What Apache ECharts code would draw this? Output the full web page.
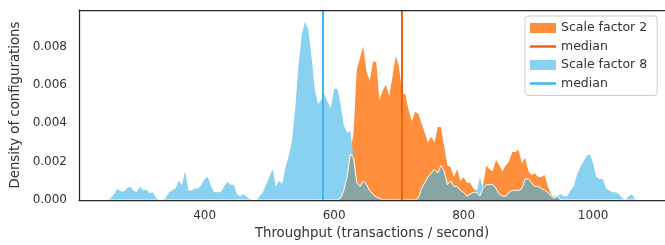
<!DOCTYPE html>
<html>
<head>
<meta charset="utf-8">
<script src="https://cdn.jsdelivr.net/npm/echarts@6/dist/echarts.min.js"></script>
<style>
  html, body { margin: 0; padding: 0; background: #fff; }
  #chart { width: 665px; height: 245px; }
</style>
</head>
<body>
<div id="chart"></div>
<script>
// bin centres (transactions / second)
var throughput = [
  245, 250, 255, 260, 265, 270, 275, 280, 285, 290,
  295, 300, 305, 310, 315, 320, 325, 330, 335, 340,
  345, 350, 355, 360, 365, 370, 375, 380, 385, 390,
  395, 400, 405, 410, 415, 420, 425, 430, 435, 440,
  445, 450, 455, 460, 465, 470, 475, 480, 485, 490,
  495, 500, 505, 510, 515, 520, 525, 530, 535, 540,
  545, 550, 555, 560, 565, 570, 575, 580, 585, 590,
  595, 600, 605, 610, 615, 620, 625, 630, 635, 640,
  645, 650, 655, 660, 665, 670, 675, 680, 685, 690,
  695, 700, 705, 710, 715, 720, 725, 730, 735, 740,
  745, 750, 755, 760, 765, 770, 775, 780, 785, 790,
  795, 800, 805, 810, 815, 820, 825, 830, 835, 840,
  845, 850, 855, 860, 865, 870, 875, 880, 885, 890,
  895, 900, 905, 910, 915, 920, 925, 930, 935, 940,
  945, 950, 955, 960, 965, 970, 975, 980, 985, 990,
  995, 1000, 1005, 1010, 1015, 1020, 1025, 1030, 1035, 1040,
  1045, 1050, 1055, 1060, 1065, 1070
];

// scale factor 2
var densitySf2 = [
  0, 0, 0, 0, 0, 0, 0, 0, 0, 0,
  0, 0, 0, 0, 0, 0, 0, 0, 0, 0,
  0, 0, 0, 0, 0, 0, 0, 0, 0, 0,
  0, 0, 0, 0, 0, 0, 0, 0, 0, 0,
  0, 0, 0, 0, 0, 0, 0, 0, 0, 0,
  0, 0, 0, 0, 0, 0, 0, 0, 0, 0,
  0, 0, 0, 0, 0, 0, 0, 0, 0, 0,
  0, 0, 0, 0.0001, 0.0005, 0.0012, 0.0024, 0.0035, 0.0068, 0.0074,
  0.008, 0.0067, 0.0062, 0.0072, 0.0072, 0.0052, 0.0057, 0.006, 0.0054, 0.0064,
  0.0075, 0.007, 0.0056, 0.0055, 0.0047, 0.0041, 0.0046, 0.0045, 0.004, 0.0035,
  0.003, 0.0033, 0.003, 0.0038, 0.0038, 0.0028, 0.0018, 0.0017, 0.0012, 0.0016,
  0.001, 0.0012, 0.0009, 0.0009, 0.0006, 0.0005, 0.0002, 0.0008, 0.0018, 0.0016,
  0.0015, 0.0021, 0.0018, 0.0015, 0.0018, 0.002, 0.0025, 0.0025, 0.0026, 0.0019,
  0.0022, 0.0015, 0.0013, 0.0014, 0.0012, 0.0012, 0.0013, 0.0007, 0.0003, 0.0001,
  0.0002, 0, 0, 0, 0, 0, 0, 0, 0, 0,
  0, 0, 0, 0, 0, 0, 0, 0, 0, 0,
  0, 0, 0, 0, 0, 0
];

// scale factor 8
var densitySf8 = [
  0, 0, 0.0001, 0.0003, 0.00058, 0.00045, 0.00044, 0.0006, 0.0007, 0.0005,
  0.0004, 0.0007, 0.0005, 0.00055, 0.00035, 0.0004, 0.0001, 0, 0, 0.0001,
  0.0004, 0.0005, 0.0006, 0.001, 0.0008, 0.0015, 0.0005, 0.0005, 0.0006, 0.0006,
  0.0008, 0.0011, 0.0012, 0.0007, 0.0004, 0.0004, 0.0004, 0.0007, 0.00095, 0.0008,
  0.0008, 0.0003, 0.0002, 0.0003, 0.00015, 0.00005, 0, 0, 0.0002, 0.0004,
  0.0008, 0.0012, 0.0016, 0.0007, 0.001, 0.00085, 0.0017, 0.0023, 0.0031, 0.0048,
  0.007, 0.0086, 0.0093, 0.0089, 0.0075, 0.0058, 0.005, 0.0052, 0.0055, 0.0051,
  0.0048, 0.0058, 0.0058, 0.005, 0.0039, 0.0035, 0.0036, 0.0022, 0.0009, 0.0007,
  0.001, 0.0008, 0.0005, 0.0003, 0.00015, 0.0001, 0, 0, 0, 0,
  0, 0, 0, 0, 0, 0, 0, 0.0001, 0.0006, 0.0009,
  0.0012, 0.0014, 0.0016, 0.0014, 0.0018, 0.0015, 0.0008, 0.001, 0.0007, 0.0007,
  0.0005, 0.0004, 0.0002, 0.0003, 0.0004, 0.0004, 0.0012, 0.0006, 0.0008, 0.0008,
  0.0008, 0.0006, 0.0003, 0.0002, 0.0002, 0.0004, 0.0005, 0.0005, 0.0005, 0.0006,
  0.0011, 0.0011, 0.0009, 0.0007, 0.0007, 0.0006, 0.0005, 0.0004, 0.0002, 0.0002,
  0.0002, 0.0003, 0.0002, 0.0002, 0.0005, 0.0007, 0.0013, 0.0017, 0.002, 0.0023,
  0.0024, 0.0019, 0.0012, 0.0011, 0.0011, 0.0006, 0.0005, 0.0004, 0.0004, 0.0003,
  0.0001, 0, 0.0002, 0.0003, 0, 0
];

var medianSf2 = 705;
var medianSf8 = 582;

var xTicks = [400, 600, 800, 1000];
var yTicks = [0, 0.002, 0.004, 0.006, 0.008];

var ORANGE = '#ff8f3d';
var ORANGE_DARK = '#ec6410';
var BLUE = '#88d1f1';
var BLUE_DARK = '#3db7ee';
var GREY = '#88a6a1';
var FONT = 'DejaVu Sans';

function pairs(ys) {
    return throughput.map(function (x, i) { return [x, ys[i]]; });
}
// part of the two areas that lies under both curves
var overlap = densitySf8.map(function (v, i) { return Math.min(v, densitySf2[i]); });

var chart = echarts.init(document.getElementById('chart'));

var axisLine = { show: true, onZero: false, lineStyle: { color: '#262626', width: 1.25 } };

chart.setOption({
    animation: false,
    grid: { left: 79, top: 10, right: -2, bottom: 44 },
    legend: {
        orient: 'vertical',
        left: 525,
        top: 16,
        padding: [5, 10, 5, 5],
        itemWidth: 26,
        itemHeight: 10,
        itemGap: 4.5,
        borderColor: '#cccccc',
        borderWidth: 1,
        borderRadius: 3,
        backgroundColor: '#fff',
        textStyle: { fontFamily: FONT, fontSize: 12.5, color: '#333', lineHeight: 14 },
        data: [
            { name: 'Scale factor 2', icon: 'rect', itemStyle: { color: ORANGE } },
            { name: 'median', icon: 'path://M0,0h26v2.5h-26z', itemStyle: { color: ORANGE_DARK } },
            { name: 'Scale factor 8', icon: 'rect', itemStyle: { color: BLUE } },
            { name: 'median ', icon: 'path://M0,0h26v2.5h-26z', itemStyle: { color: BLUE_DARK } }
        ]
    },
    xAxis: [{
        type: 'value',
        min: 206,
        max: 1111,
        position: 'bottom',
        z: 10,
        axisLine: axisLine,
        axisTick: { show: false },
        splitLine: { show: false },
        axisLabel: {
            customValues: xTicks, margin: 10, color: '#333', fontSize: 12, fontFamily: FONT,
            formatter: function (v) { return String(v); }
        },
        name: 'Throughput (transactions / second)',
        nameLocation: 'middle',
        nameGap: 27,
        nameTextStyle: { color: '#333', fontSize: 13.3, fontFamily: FONT }
    }, {
        type: 'value',
        min: 206,
        max: 1111,
        position: 'top',
        z: 10,
        axisLine: axisLine,
        axisTick: { show: false },
        axisLabel: { show: false },
        splitLine: { show: false }
    }],
    yAxis: {
        type: 'value',
        min: 0,
        max: 0.0099,
        z: 10,
        axisLine: axisLine,
        axisTick: { show: false },
        splitLine: { show: false },
        axisLabel: {
            customValues: yTicks, margin: 12, color: '#333', fontSize: 12, fontFamily: FONT,
            formatter: function (v) { return v.toFixed(3); }
        },
        name: 'Density of configurations',
        nameLocation: 'middle',
        nameRotate: 90,
        nameGap: 47,
        nameTextStyle: { color: '#333', fontSize: 13.3, fontFamily: FONT }
    },
    series: [{
        name: 'Scale factor 2',
        type: 'line',
        data: pairs(densitySf2),
        symbol: 'none',
        color: ORANGE,
        lineStyle: { width: 0 },
        areaStyle: { color: ORANGE, opacity: 1 },
        z: 2
    }, {
        name: 'Scale factor 8',
        type: 'line',
        data: pairs(densitySf8),
        symbol: 'none',
        color: BLUE,
        lineStyle: { width: 0 },
        areaStyle: { color: BLUE, opacity: 1 },
        z: 3
    }, {
        name: 'overlap',
        type: 'line',
        data: pairs(overlap),
        symbol: 'none',
        color: GREY,
        lineStyle: { color: '#ffffff', width: 1 },
        areaStyle: { color: GREY, opacity: 1 },
        z: 4
    }, {
        name: 'median',
        type: 'line',
        data: [],
        color: ORANGE_DARK,
        z: 5,
        markLine: {
            silent: true,
            symbol: 'none',
            label: { show: false },
            lineStyle: { color: ORANGE_DARK, width: 2, type: 'solid' },
            data: [{ xAxis: medianSf2 }]
        }
    }, {
        name: 'median ',
        type: 'line',
        data: [],
        color: BLUE_DARK,
        z: 5,
        markLine: {
            silent: true,
            symbol: 'none',
            label: { show: false },
            lineStyle: { color: BLUE_DARK, width: 2, type: 'solid' },
            data: [{ xAxis: medianSf8 }]
        }
    }]
});
</script>
</body>
</html>
